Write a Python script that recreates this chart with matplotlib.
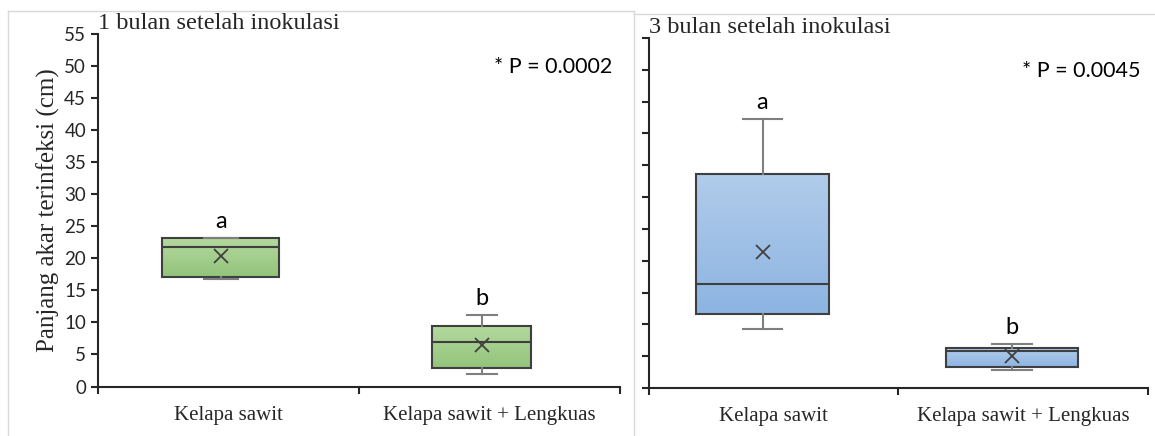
import numpy as np
import matplotlib.pyplot as plt
from matplotlib.colors import LinearSegmentedColormap
from matplotlib.lines import Line2D

categories = ['Kelapa sawit', 'Kelapa sawit + Lengkuas']
yticks = list(range(0, 56, 5))

# 1 bulan setelah inokulasi: whislo, q1, median, q3, whishi, mean
b1_whislo = [16.7, 1.9]
b1_q1 = [17.1, 2.9]
b1_med = [21.8, 7.0]
b1_q3 = [23.1, 9.4]
b1_whishi = [23.1, 11.1]
b1_mean = [20.3, 6.4]
b1_letters = ['a', 'b']
b1_p = '* P = 0.0002'

# 3 bulan setelah inokulasi
b3_whislo = [9.3, 2.9]
b3_q1 = [11.7, 3.35]
b3_med = [16.3, 5.8]
b3_q3 = [33.7, 6.3]
b3_whishi = [42.3, 6.9]
b3_mean = [21.4, 5.0]
b3_letters = ['a', 'b']
b3_p = '* P = 0.0045'

serif = 'Liberation Serif'
sans = 'Lato'
axc = '#262626'


def draw_panel(ax, whislo, q1, med, q3, whishi, mean, letters, ptxt,
               title, c_top, c_bot, widths, capw, shift, show_ylab):
    stats = []
    for i in range(len(categories)):
        stats.append(dict(whislo=whislo[i], q1=q1[i], med=med[i], q3=q3[i],
                          whishi=whishi[i], mean=mean[i], fliers=[]))
    pos = [i + 1 + shift for i in range(len(categories))]
    bp = ax.bxp(stats, positions=pos, widths=widths, capwidths=capw,
                patch_artist=True, showmeans=True, manage_ticks=False,
                boxprops=dict(edgecolor='#3f3f3f', linewidth=1.5, facecolor='none'),
                medianprops=dict(color='#3f3f3f', linewidth=1.5),
                whiskerprops=dict(color='#7f7f7f', linewidth=1.5),
                capprops=dict(color='#7f7f7f', linewidth=1.5),
                meanprops=dict(marker='x', markeredgecolor='#404040',
                               markersize=10, markeredgewidth=1.3))
    cmap = LinearSegmentedColormap.from_list('g', [c_bot, c_top])
    grad = np.linspace(0, 1, 100).reshape(-1, 1)
    for i, patch in enumerate(bp['boxes']):
        w = widths[i]
        im = ax.imshow(grad, cmap=cmap, aspect='auto', origin='lower',
                       extent=[pos[i] - w / 2, pos[i] + w / 2, q1[i], q3[i]],
                       zorder=1.5)
        im.set_clip_path(patch)
        ax.text(pos[i], whishi[i] + 0.9, letters[i], ha='center', va='bottom',
                fontsize=17, family=sans, color='black')

    ax.set_xlim(0.5, 2.5)
    ax.set_ylim(0, 55)
    ax.set_yticks(yticks)
    if show_ylab:
        ax.set_yticklabels([str(v) for v in yticks], family=sans, fontsize=13.5, color=axc)
        ax.set_ylabel('Panjang akar terinfeksi (cm)', family=serif, fontsize=18,
                      color=axc, labelpad=3)
    else:
        ax.set_yticklabels([])
    ax.set_xticks([0.5, 1.5, 2.5])
    ax.set_xticklabels([])
    ax.set_xticks([1, 2], minor=True)
    ax.set_xticklabels(categories, minor=True, family=serif, fontsize=15, color=axc)
    ax.tick_params(axis='x', which='minor', length=0, pad=14)
    ax.tick_params(axis='both', which='major', direction='out', length=5,
                   width=1.5, color='#262626')
    for s in ['top', 'right']:
        ax.spines[s].set_visible(False)
    for s in ['left', 'bottom']:
        ax.spines[s].set_linewidth(1.5)
        ax.spines[s].set_color('#262626')
    ax.text(0.0, 1.0, title, transform=ax.transAxes, ha='left', va='bottom',
            family=serif, fontsize=17.5, color=axc)
    ax.text(0.985, 0.905, ptxt, transform=ax.transAxes, ha='right', va='center',
            family=sans, fontsize=15.5, color='black')


fig = plt.figure(figsize=(11.55, 4.36), dpi=100)

ax1 = fig.add_axes([0.0848, 0.1135, 0.452, 0.8096])
draw_panel(ax1, b1_whislo, b1_q1, b1_med, b1_q3, b1_whishi, b1_mean, b1_letters, b1_p,
           '1 bulan setelah inokulasi', '#b4d99e', '#92c47b', [0.45, 0.38], [0.13, 0.115],
           -0.03, True)

ax2 = fig.add_axes([0.5619, 0.110, 0.432, 0.803])
draw_panel(ax2, b3_whislo, b3_q1, b3_med, b3_q3, b3_whishi, b3_mean, b3_letters, b3_p,
           '3 bulan setelah inokulasi', '#b1cceb', '#8db4e2', [0.53, 0.53], [0.16, 0.16],
           -0.045, False)

# light frame lines of the original screenshot
fc = '#d9d9d9'
fig.add_artist(Line2D([8 / 1155, 8 / 1155], [0, 1 - 11 / 436], color=fc, lw=1))
fig.add_artist(Line2D([8 / 1155, 634 / 1155], [1 - 11 / 436, 1 - 11 / 436], color=fc, lw=1))
fig.add_artist(Line2D([634 / 1155, 634 / 1155], [0, 1 - 11 / 436], color=fc, lw=1))
fig.add_artist(Line2D([634 / 1155, 1], [1 - 14 / 436, 1 - 14 / 436], color=fc, lw=1))

fig.savefig('out.png', dpi=100)
